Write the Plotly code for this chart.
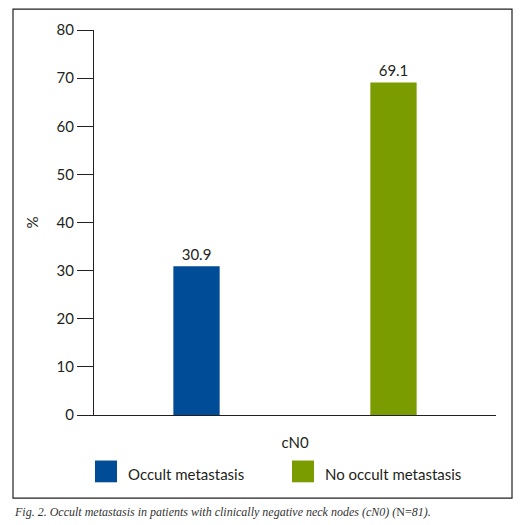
import plotly.graph_objects as go

# data
group = ["cN0"]
series = ["Occult metastasis", "No occult metastasis"]
values = [30.9, 69.1]
colors = ["#004c97", "#7a9c01"]
y_ticks = [0, 10, 20, 30, 40, 50, 60, 70, 80]

# the page body has an 8px margin, so the figure is drawn 8px in from the corner
OFF = 8
W, H = 532 - OFF, 525 - OFF
L, R, T, B = 86, 36, 18, 110
pw, ph = W - L - R, H - T - B
FONT = "Lato"


def px_x(x):
    return (x - OFF - L) / pw


def px_y(y):
    return (H - B - (y - OFF)) / ph


fig = go.Figure()
for name, v, c in zip(series, values, colors):
    fig.add_trace(go.Bar(x=group, y=[v], name=name, marker_color=c, marker_line_width=0,
                         text=[f"{v:.1f}"], textposition="outside",
                         textfont=dict(size=15, color="#231f20"), cliponaxis=False,
                         showlegend=False))

# frame around the chart
fig.add_shape(type="rect", xref="paper", yref="paper",
              x0=px_x(13), x1=px_x(512), y0=px_y(5), y1=px_y(499),
              line=dict(color="#231f20", width=1.2), fillcolor="rgba(0,0,0,0)")

# legend drawn below the axis
legend_x = [95, 292]
for lx, name, c in zip(legend_x, series, colors):
    fig.add_shape(type="rect", xref="paper", yref="paper",
                  x0=px_x(lx), x1=px_x(lx + 22), y0=px_y(461), y1=px_y(483),
                  line_width=0, fillcolor=c)
    fig.add_annotation(x=px_x(lx + 31), y=px_y(475), xref="paper", yref="paper",
                       text=name, showarrow=False, xanchor="left", yanchor="middle",
                       font=dict(size=15, color="#231f20"))

fig.add_annotation(x=px_x(12), y=px_y(513), xref="paper", yref="paper",
                   text="<i>Fig. 2. Occult metastasis in patients with clinically negative neck nodes (cN0) (</i>N=<i>81).</i>",
                   showarrow=False, xanchor="left", yanchor="middle",
                   font=dict(family="Liberation Serif", size=12, color="#333333"))

fig.update_layout(
    width=W, height=H,
    margin=dict(l=L, r=R, t=T, b=B),
    paper_bgcolor="white", plot_bgcolor="white",
    font=dict(family=FONT, size=15, color="#231f20"),
    barmode="group", bargap=0.02, bargroupgap=0.765,
    xaxis=dict(showline=True, linecolor="#231f20", linewidth=1.2, ticks="",
               tickfont=dict(size=15), ticklabelstandoff=14, showgrid=False),
    yaxis=dict(range=[0, 80], tickvals=y_ticks, showline=True, linecolor="#231f20",
               linewidth=1.2, ticks="outside", ticklen=16, tickcolor="#231f20",
               tickwidth=1.2, showgrid=False, zeroline=False,
               title=dict(text="%", standoff=14, font=dict(size=15))),
)

fig.write_html("out.html")
